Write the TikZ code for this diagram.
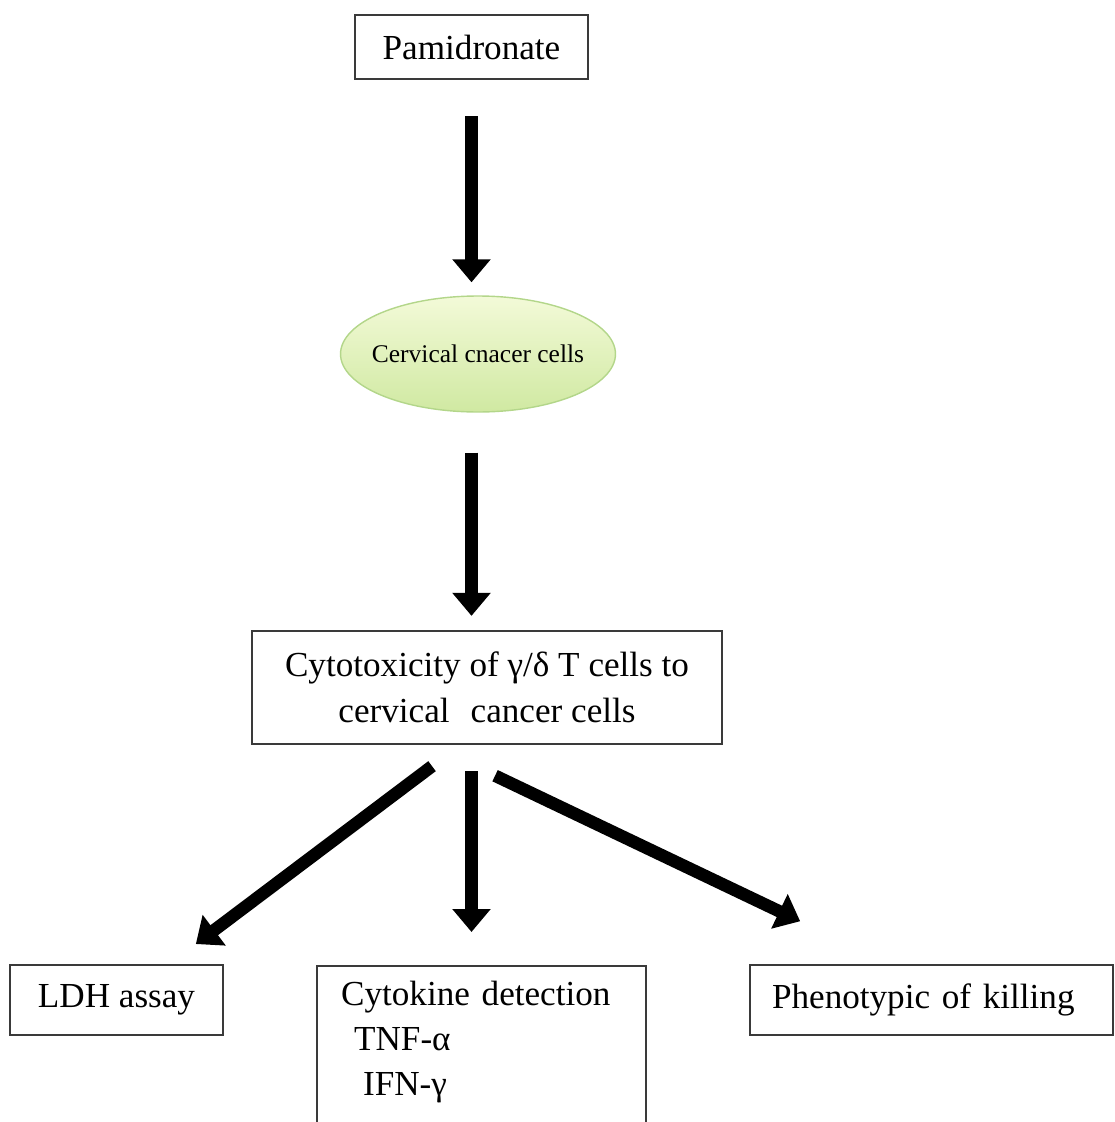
\documentclass[tikz,border=0pt]{standalone}
\usepackage{fontspec}
\setmainfont{Liberation Serif}
\usepackage{xcolor}
\usetikzlibrary{shapes.geometric,arrows.meta,positioning,calc}
\definecolor{celltop}{HTML}{F3FAD8}
\definecolor{cellbot}{HTML}{D0E9A2}
\definecolor{celledge}{HTML}{B3D68A}
\definecolor{boxedge}{HTML}{3A3A3A}
\tikzset{
  box/.style={draw=boxedge, line width=1.3pt, inner sep=0pt, font=\fontsize{20}{26}\selectfont},
  bigarrow/.style={line width=0.25cm, -{Triangle[length=0.46cm,width=0.74cm]}}
}

\begin{document}
\begin{tikzpicture}[x=0.02cm, y=-0.02cm]
    \useasboundingbox (0,0) rectangle (1115,1122);

    % Drug and target cells
    \node[box, minimum width=4.66cm, minimum height=1.28cm] (pam) at (471.5,47) {Pamidronate};
    \node[ellipse, draw=celledge, line width=0.8pt, top color=celltop, bottom color=cellbot,
          minimum width=5.5cm, minimum height=2.32cm, inner xsep=-0.8cm, inner ysep=0pt,
          font=\fontsize{14.5}{16}\selectfont] (cells) at (478,354) {Cervical cnacer cells};
    \node[box, minimum width=9.4cm, minimum height=2.26cm, align=center] (cyto) at (487,687.5)
        {Cytotoxicity of γ/δ T cells to\\cervical\hspace{0.6em}cancer cells};

    % Read-outs
    \node[box, minimum width=4.26cm, minimum height=1.4cm] (ldh) at (116.5,1000) {LDH assay};
    \node[box, anchor=north west, text width=5.62cm, inner xsep=0.48cm, inner ysep=0.3cm,
          align=left, font=\fontsize{20}{25.6}\selectfont] (cyt) at (316,965)
        {Cytokine detection\\\hspace*{0.26cm}TNF-α\\\hspace*{0.44cm}IFN-γ\\\strut};
    \node[box, minimum height=1.4cm, text width=6.38cm, inner xsep=0.44cm, align=left] (phen)
        at (931.5,1000) {Phenotypic of killing};

    \draw[bigarrow, shorten <=0.72cm, shorten >=0.26cm] (pam.south) -- (pam.south |- cells.north);
    \draw[bigarrow, shorten <=0.8cm, shorten >=0.28cm] (pam.south |- cells.south) -- (pam.south |- cyto.north);
    \draw[bigarrow, shorten <=0.7cm, shorten >=0.66cm] ([xshift=-0.54cm]cyto.south) -- ([xshift=1.06cm]ldh.north);
    \draw[bigarrow, shorten <=0.52cm, shorten >=0.66cm] (pam.south |- cyto.south) -- (pam.south |- cyt.north);
    \draw[bigarrow, shorten <=1.42cm, shorten >=1.98cm] ([xshift=-1.12cm]cyto.south) -- ([xshift=-0.84cm]phen.north);
\end{tikzpicture}
\end{document}
